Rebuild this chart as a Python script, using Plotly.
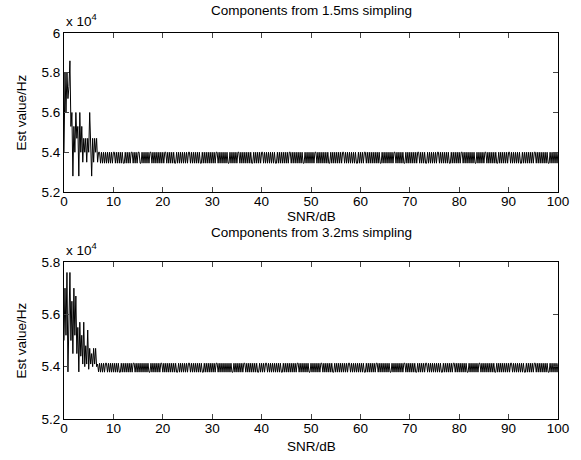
import numpy as np
import plotly.graph_objects as go
from plotly.subplots import make_subplots

# SNR grid (dB), step 0.2
step = 0.2

# transient part, x = 0 .. 7 dB, values in 1e4 Hz
top_transient = [5.40, 5.80, 5.60, 5.80, 5.67, 5.73, 5.86, 5.53, 5.60, 5.28,
                 5.53, 5.40, 5.60, 5.47, 5.53, 5.28, 5.60, 5.40, 5.53, 5.35,
                 5.47, 5.40, 5.47, 5.35, 5.47, 5.40, 5.60, 5.35, 5.28, 5.47,
                 5.35, 5.47, 5.40, 5.47, 5.35, 5.40]
bot_transient = [5.50, 5.70, 5.52, 5.76, 5.38, 5.62, 5.76, 5.50, 5.65, 5.45,
                 5.70, 5.52, 5.67, 5.45, 5.55, 5.38, 5.57, 5.44, 5.52, 5.41,
                 5.57, 5.40, 5.48, 5.41, 5.54, 5.39, 5.47, 5.41, 5.45, 5.40,
                 5.47, 5.41, 5.47, 5.40, 5.41, 5.38]

# steady part, x = 7.2 .. 100 dB: estimate jumps between two levels (1 = high, 0 = low)
top_levels = {"1": 5.400, "0": 5.345}
bot_levels = {"1": 5.413, "0": 5.379}
top_pattern = (
    "1010101010 1010110101 0101001010 1011010101 1001010101 0110101010 1010101101 0101010010 1010101010 1101010101 "
    "0100101010 1010101011 0101010101 0010101010 1101010101 0101001010 1010110101 0101010100 1010101010 1011010101 "
    "0101010010 1010101011 0101010101 0100101010 1010101101 0101010101 0010101011 0101010101 0101001010 1010101011 "
    "0101010100 1010101010 1011010101 0010101010 1011010101 0101001010 1010101101 0101010101 0010101010 1101010101 "
    "0100101010 1010110101 0101010010 1010101010 1101010101 0101001010 10101"
)
bot_pattern = (
    "1010101101 0101010101 0010101010 1010110101 0101010101 0010101010 1011010101 0101010100 1010101010 1101010101 "
    "0101001010 1010101011 0101010101 0101001010 1010101101 0101010101 0010101011 0101010101 0101001010 1010101010 "
    "1101010101 0100101010 1010110101 0101010010 1010101010 1011010101 0101010100 1010101010 1101010101 0101001010 "
    "1010101011 0101010101 0010101010 1101010101 0101010010 1010101011 0101010101 0100101010 1010110101 0101010101 "
    "0010101010 1010101101 0101010101 0010101010 1101010101 0101001010 10101"
)

titles = ["Components from 1.5ms simpling", "Components from 3.2ms simpling"]
y_ticks = [[5.2, 5.4, 5.6, 5.8, 6.0], [5.2, 5.4, 5.6, 5.8]]
y_ticktext = [["5.2", "5.4", "5.6", "5.8", "6"], ["5.2", "5.4", "5.6", "5.8"]]
y_ranges = [[5.2, 6.0], [5.2, 5.8]]
x_ticks = [0, 10, 20, 30, 40, 50, 60, 70, 80, 90, 100]


def build(transient, pattern, levels):
    y = list(transient) + [levels[c] for c in pattern.replace(" ", "")]
    x = np.round(np.arange(len(y)) * step, 2)
    return x, y


series = [build(top_transient, top_pattern, top_levels),
          build(bot_transient, bot_pattern, bot_levels)]

W, H = 581, 460
ml, mr, mt, mb = 64, 21, 33, 41
ph = H - mt - mb
# axes boxes in pixels (top, bottom)
boxes = [(33, 192), (262, 419)]
domains = [[(H - mb - b) / ph, (H - mb - t) / ph] for t, b in boxes]

fig = make_subplots(rows=2, cols=1)
font = dict(family="Liberation Sans, Arial, sans-serif", size=13.5, color="black")

title_shift = [23, 30]
xlabel_shift = [-24, -27]

for i, (x, y) in enumerate(series):
    fig.add_trace(go.Scatter(x=x, y=y, mode="lines",
                             line=dict(color="black", width=1),
                             showlegend=False), row=i + 1, col=1)
    ax = "" if i == 0 else "2"
    fig.layout["xaxis" + ax].update(
        range=[0, 100], tickvals=x_ticks, ticks="inside", ticklen=5,
        showline=True, linecolor="black", linewidth=1, mirror="ticks",
        showgrid=False, zeroline=False, tickfont=font, domain=[0, 1],
        ticklabelstandoff=-3)
    fig.layout["yaxis" + ax].update(
        range=y_ranges[i], tickvals=y_ticks[i], ticktext=y_ticktext[i],
        ticks="inside", ticklen=5, showline=True, linecolor="black",
        linewidth=1, mirror="ticks", showgrid=False, zeroline=False,
        tickfont=font, domain=domains[i])

    top_frac = domains[i][1]
    bot_frac = domains[i][0]
    mid_frac = (top_frac + bot_frac) / 2
    fig.add_annotation(text=titles[i], x=0.5, y=top_frac, xref="paper", yref="paper",
                       xanchor="center", yanchor="middle", yshift=title_shift[i],
                       showarrow=False, font=font)
    fig.add_annotation(text="x 10<sup>4</sup>", x=0, y=top_frac, xref="paper", yref="paper",
                       xanchor="left", yanchor="middle", yshift=13, showarrow=False, font=font)
    fig.add_annotation(text="SNR/dB", x=0.5, y=bot_frac, xref="paper", yref="paper",
                       xanchor="center", yanchor="middle", yshift=xlabel_shift[i],
                       showarrow=False, font=font)
    fig.add_annotation(text="Est value/Hz", x=0, y=mid_frac, xref="paper", yref="paper",
                       xanchor="center", yanchor="middle", xshift=-43, textangle=-90,
                       showarrow=False, font=font)

fig.update_layout(width=W, height=H, margin=dict(l=ml, r=mr, t=mt, b=mb),
                  paper_bgcolor="white", plot_bgcolor="white", font=font)

fig.write_html("out.html", config={"displayModeBar": False},
               post_script="document.body.style.margin='0';")
